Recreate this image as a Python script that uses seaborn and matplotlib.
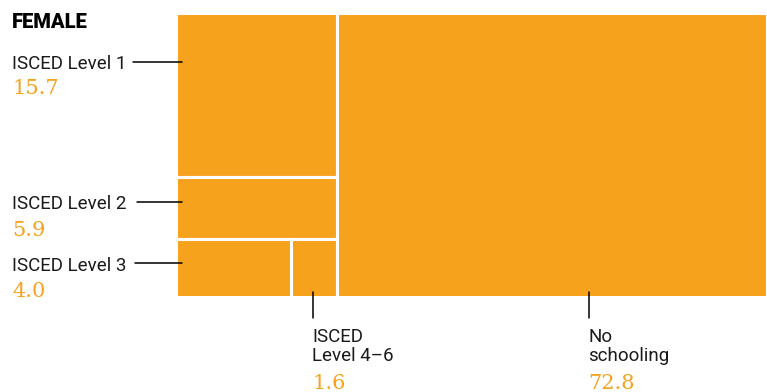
import matplotlib
matplotlib.use("Agg")
import matplotlib.pyplot as plt
import seaborn as sns
from matplotlib.lines import Line2D

# Данные
categories = ["ISCED Level 1", "ISCED Level 2", "ISCED Level 3", "ISCED\nLevel 4–6", "No\nschooling"]
values = [15.7, 5.9, 4.0, 1.6, 72.8]
value_labels = ["15.7", "5.9", "4.0", "1.6", "72.8"]

ORANGE = "#F7A21D"
W, H = 767, 392

sns.set_style("white")
plt.rcParams["font.family"] = ["Roboto", "DejaVu Sans"]

fig = plt.figure(figsize=(W / 100, H / 100), dpi=100)
ax = fig.add_axes([176 / W, 1 - 297 / H, (767 - 176) / W, (297 - 13) / H])

# Раскладка treemap: слева колонка из четырёх уровней, справа "No schooling"
total = sum(values)
left = values[:4]
col_w = sum(left) / total * 100
h1 = left[0] / sum(left) * 100
h2 = left[1] / sum(left) * 100
h3 = 100 - h1 - h2
w3 = left[2] / (left[2] + left[3]) * col_w

xs = [0, 0, 0, w3, col_w]
ws = [col_w, col_w, w3, col_w - w3, 100 - col_w]
ys = [0, h1, h1 + h2, h1 + h2, 0]
hs = [h1, h2, h3, h3, 100]

ax.bar(xs, hs, width=ws, bottom=ys, align="edge", color=ORANGE,
       edgecolor="white", linewidth=2.2)
ax.set_xlim(0, 100)
ax.set_ylim(100, 0)
ax.axis("off")


def fx(x):
    return x / W


def fy(y):
    return 1 - y / H


def line(x0, y0, x1, y1):
    fig.add_artist(Line2D([fx(x0), fx(x1)], [fy(y0), fy(y1)], color="black", lw=1.1))


label_kw = dict(fontsize=13.5, color="#1a1a1a", va="baseline", ha="left")
value_kw = dict(fontsize=15, color=ORANGE, va="baseline", ha="left",
                family=["DejaVu Serif"])

fig.text(fx(12), fy(28), "FEMALE", fontsize=14.5, fontweight="black", color="black")

# Подписи слева: (базовая линия подписи, базовая линия значения, линия, начало линии)
left_pos = [(69, 94, 62, 133), (209, 236, 202, 137), (271, 297, 263, 135)]
for i, (yb, yv, yl, xl) in enumerate(left_pos):
    fig.text(fx(12), fy(yb), categories[i], **label_kw)
    fig.text(fx(12), fy(yv), value_labels[i], **value_kw)
    line(xl, yl, 182, yl)

# Подписи снизу
bottom_pos = [(3, 313), (4, 589)]
for i, xl in bottom_pos:
    line(xl, 292, xl, 318)
    fig.text(fx(xl - 1), fy(361), categories[i], linespacing=1.05, **label_kw)
    fig.text(fx(xl - 1), fy(389), value_labels[i], **value_kw)

fig.savefig("out.png", dpi=100)
